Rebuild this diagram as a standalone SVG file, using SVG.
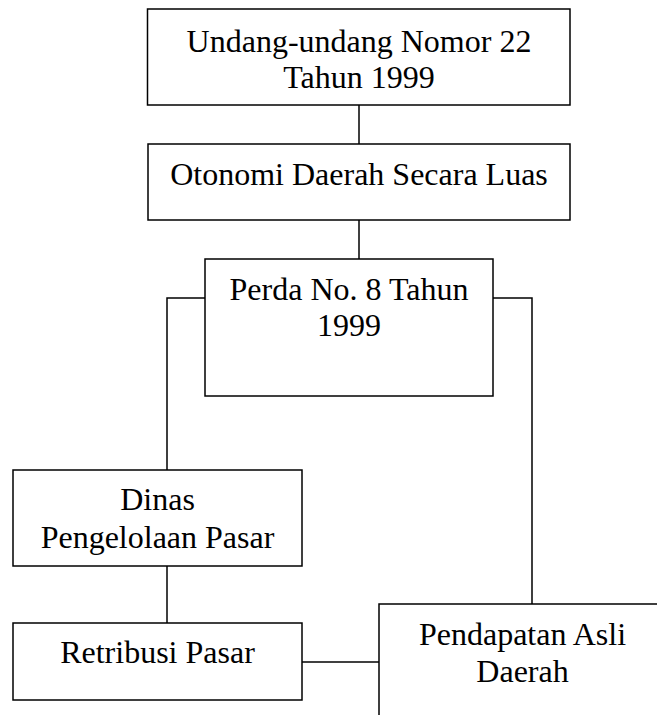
<svg xmlns="http://www.w3.org/2000/svg" width="657" height="715" viewBox="0 0 657 715">
<style>
rect{fill:#fff;stroke:#000;stroke-width:1.5}
.c{fill:none;stroke:#000;stroke-width:1.5}
text{font-family:"Liberation Serif","Times New Roman",serif;font-size:32px;fill:#000;text-anchor:middle}
</style>
<rect x="0" y="0" width="657" height="715" style="stroke:none"/>
<g id="connectors">
<line class="c" x1="359" y1="105" x2="359" y2="144"/>
<line class="c" x1="359" y1="220" x2="359" y2="259"/>
<polyline class="c" points="205,298 167,298 167,470"/>
<polyline class="c" points="493,298 532,298 532,604"/>
<line class="c" x1="167" y1="566" x2="167" y2="623"/>
<line class="c" x1="302" y1="662" x2="379" y2="662"/>
</g>
<g id="uu">
<rect x="147.5" y="9" width="422.5" height="96"/>
<text x="359" y="51.5">Undang-undang Nomor 22</text>
<text x="359" y="88">Tahun 1999</text>
</g>
<g id="otonomi">
<rect x="148" y="144" width="422" height="76"/>
<text x="359" y="185">Otonomi Daerah Secara Luas</text>
</g>
<g id="perda">
<rect x="205" y="259" width="288" height="137"/>
<text x="349" y="300">Perda No. 8 Tahun</text>
<text x="349" y="336">1999</text>
</g>
<g id="dinas">
<rect x="13" y="470" width="289" height="96"/>
<text x="157.5" y="510">Dinas</text>
<text x="157.5" y="548">Pengelolaan Pasar</text>
</g>
<g id="retribusi">
<rect x="13" y="623" width="289" height="77"/>
<text x="157.5" y="663">Retribusi Pasar</text>
</g>
<g id="pad">
<rect x="379" y="604" width="290" height="130"/>
<text x="522.5" y="645">Pendapatan Asli</text>
<text x="522.5" y="682">Daerah</text>
</g>
</svg>
